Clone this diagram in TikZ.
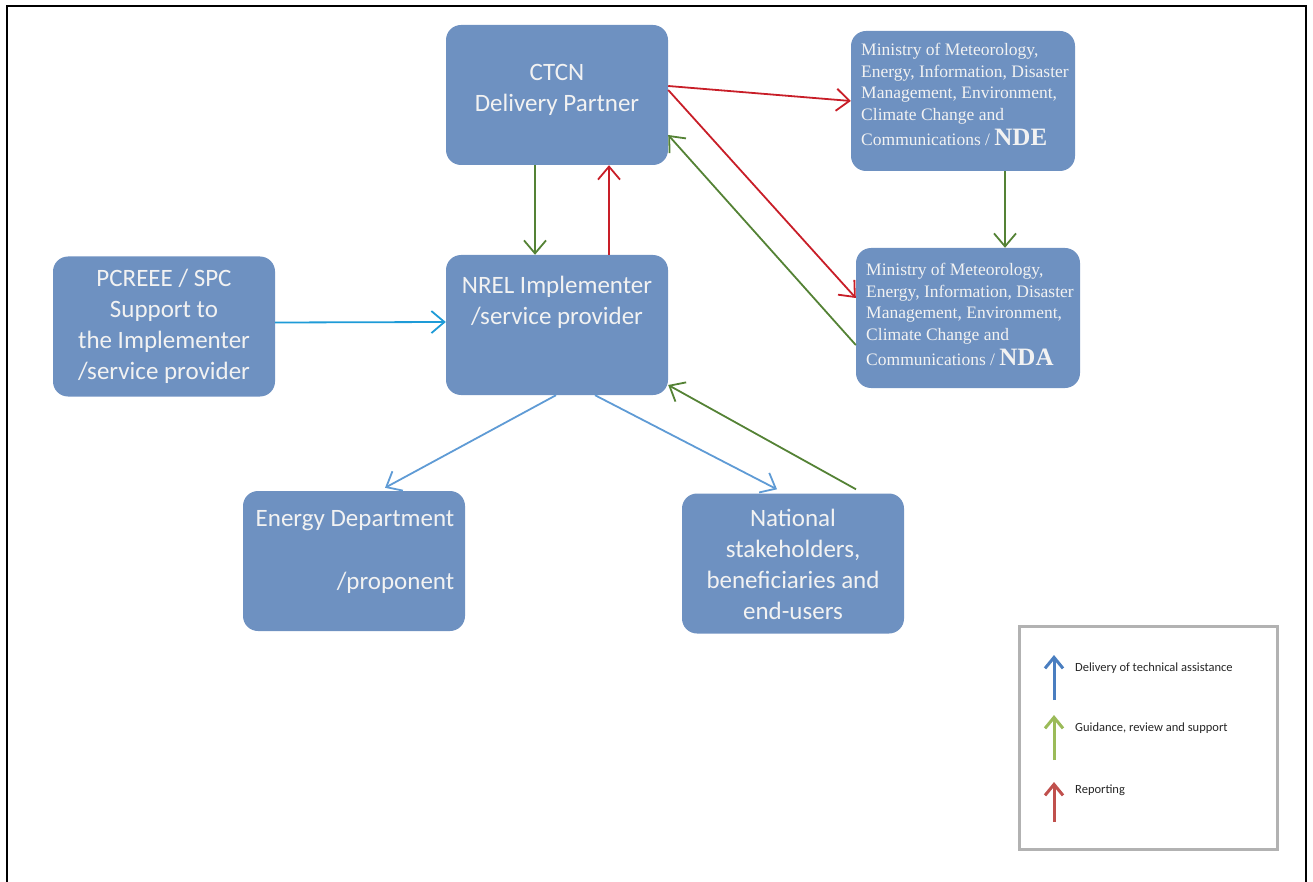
\documentclass[tikz,border=0pt]{standalone}
\usepackage{fontspec}
\setmainfont{Carlito}
\newfontfamily\serifm{Liberation Serif}
\usetikzlibrary{arrows.meta}
\definecolor{boxblue}{RGB}{110,145,193}
\definecolor{lgreen}{RGB}{84,130,53}
\definecolor{lred}{RGB}{200,30,40}
\definecolor{lblue}{RGB}{95,155,213}
\definecolor{lcyan}{RGB}{30,155,215}
\definecolor{legblue}{RGB}{74,126,192}
\definecolor{leggreen}{RGB}{155,187,89}
\definecolor{legred}{RGB}{192,80,77}
\tikzset{
  box/.style={draw=none, fill=boxblue, rounded corners=15pt, minimum width=222pt, minimum height=140pt, inner sep=0pt},
  txt/.style={text=white!95!black, align=center, font=\fontsize{25}{31}\selectfont, inner sep=0pt},
  mtxt/.style={text=white!95!black, align=left, font=\serifm\fontsize{17.5}{21.5}\selectfont, inner sep=0pt, anchor=north west},
  conn/.style={line width=1.8pt, -{Straight Barb[length=13pt,width=22pt,line width=1.8pt]}},
  legarr/.style={line width=3pt, -{Straight Barb[length=11pt,width=18pt,line width=3pt]}},
  legtxt/.style={font=\fontsize{12.5}{14}\selectfont, anchor=west, inner sep=0pt, text=black!85}
}
\begin{document}
\begin{tikzpicture}[x=1pt,y=-1pt]
\useasboundingbox (0,0) rectangle (1313,882);
\draw[line width=2.5pt] (7,900) -- (7,6) -- (1306,6) -- (1306,900);

% boxes
\node[box] (ctcn) at (557,95) {};
\node[txt] at (557,90) {CTCN\\Delivery Partner};
\node[box, minimum width=224pt] (nde) at (963,101) {};
\node[mtxt] at (861,43) {Ministry of Meteorology,\\Energy, Information, Disaster\\Management, Environment,\\Climate Change and\\[4pt]Communications / {\fontsize{25}{21.5}\selectfont\bfseries NDE}};
\node[box, minimum width=224pt] (nda) at (968,318) {};
\node[mtxt] at (866,263) {Ministry of Meteorology,\\Energy, Information, Disaster\\Management, Environment,\\Climate Change and\\[4pt]Communications / {\fontsize{25}{21.5}\selectfont\bfseries NDA}};
\node[box] (pc) at (164,326.5) {};
\node[txt] at (164,326) {PCREEE / SPC\\Support to\\the Implementer\\/service provider};
\node[box] (nrel) at (557,325) {};
\node[txt] at (557,302) {NREL Implementer\\/service provider};
\node[box] (energy) at (354,561) {};
\node[txt, align=right] at (355,552) {Energy Department\\[32pt]/proponent};
\node[box] (nat) at (793,563.5) {};
\node[txt] at (793,564) {National\\stakeholders,\\beneficiaries and\\end-users};

% connectors
\draw[conn, lgreen] ([xshift=-22pt]ctcn.south) -- ([xshift=-22pt]nrel.north);
\draw[conn, lred] ([xshift=52pt]nrel.north) -- ([xshift=52pt]ctcn.south);
\draw[conn, lred] ([yshift=9pt]ctcn.east) -- (nde.west);
\draw[conn, lred] ([yshift=5pt]ctcn.east) -- ([yshift=20pt]nda.west);
\draw[conn, lgreen] ([yshift=-27pt]nda.west) -- ([yshift=-40pt]ctcn.east);
\draw[conn, lgreen] ([xshift=42pt]nde.south) -- ([xshift=37pt]nda.north);
\draw[conn, lcyan] ([yshift=4pt]pc.east) -- ([yshift=3pt]nrel.west);
\draw[conn, lblue] ([xshift=-1pt]nrel.south) -- ([xshift=31pt,yshift=3pt]energy.north);
\draw[conn, lblue] ([xshift=38pt]nrel.south) -- ([xshift=-16pt,yshift=4pt]nat.north);
\draw[conn, lgreen] ([xshift=63pt,yshift=4pt]nat.north) -- ([yshift=-60pt]nrel.east);

% legend
\node[draw=black!30, line width=3pt, minimum width=258pt, minimum height=223pt, inner sep=0pt] (legend) at (1148,738) {};
\coordinate (lb1) at (1054,700); \coordinate (lb2) at (1054,655);
\coordinate (lg1) at (1054,760); \coordinate (lg2) at (1054,715);
\coordinate (lr1) at (1054,822); \coordinate (lr2) at (1054,782);
\draw[legarr, legblue] (lb1) -- (lb2);
\draw[legarr, leggreen] (lg1) -- (lg2);
\draw[legarr, legred] (lr1) -- (lr2);
\node[legtxt] (t1) at (1075,668) {Delivery of technical assistance};
\node[legtxt] (t2) at (1075,728) {Guidance, review and support};
\node[legtxt] (t3) at (1075,790) {Reporting};
\end{tikzpicture}
\end{document}
